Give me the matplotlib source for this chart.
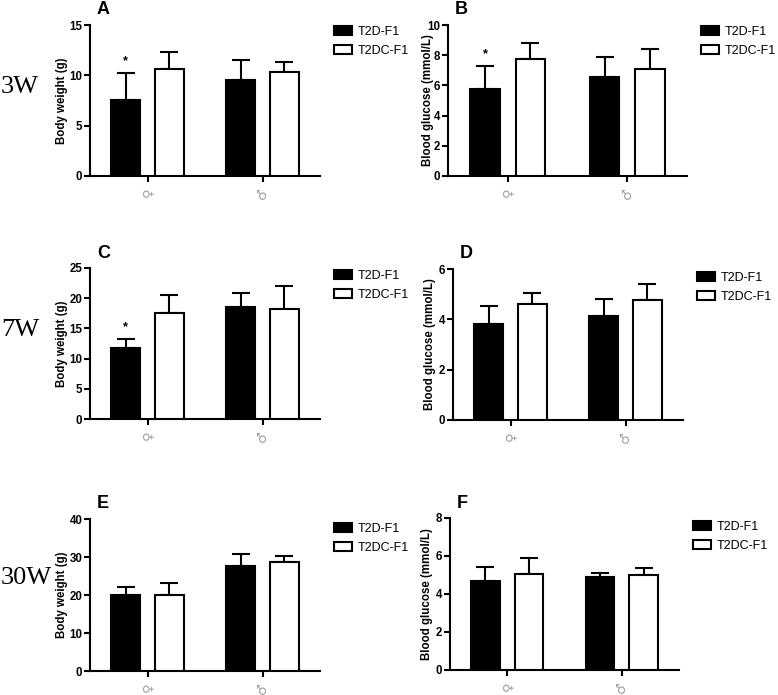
import matplotlib
matplotlib.use("Agg")
import matplotlib.pyplot as plt
from matplotlib.patches import Rectangle
import numpy as np

plt.rcParams['font.family'] = ['Liberation Sans', 'DejaVu Sans']

# ---- data ----
groups = ['♀', '♂']
series = ['T2D-F1', 'T2DC-F1']

A_t2d = [7.55, 9.55]
A_t2d_err = [2.7, 1.95]
A_t2dc = [10.6, 10.35]
A_t2dc_err = [1.7, 1.0]

B_t2d = [5.78, 6.58]
B_t2d_err = [1.5, 1.28]
B_t2dc = [7.75, 7.06]
B_t2dc_err = [1.08, 1.37]

C_t2d = [11.8, 18.5]
C_t2d_err = [1.45, 2.3]
C_t2dc = [17.6, 18.2]
C_t2dc_err = [2.9, 3.8]

D_t2d = [3.81, 4.13]
D_t2d_err = [0.71, 0.66]
D_t2dc = [4.62, 4.78]
D_t2dc_err = [0.43, 0.64]

E_t2d = [20.0, 27.6]
E_t2d_err = [2.1, 3.1]
E_t2dc = [20.1, 28.6]
E_t2dc_err = [3.0, 1.6]

F_t2d = [4.69, 4.9]
F_t2d_err = [0.71, 0.2]
F_t2dc = [5.06, 4.99]
F_t2dc_err = [0.81, 0.39]

ylims = {'A': 15, 'B': 10, 'C': 25, 'D': 6, 'E': 40, 'F': 8}
yticks = {'A': [0, 5, 10, 15], 'B': [0, 2, 4, 6, 8, 10], 'C': [0, 5, 10, 15, 20, 25],
          'D': [0, 2, 4, 6], 'E': [0, 10, 20, 30, 40], 'F': [0, 2, 4, 6, 8]}
ylabels = {'A': 'Body weight (g)', 'B': 'Blood glucose (mmol/L)', 'C': 'Body weight (g)',
           'D': 'Blood glucose (mmol/L)', 'E': 'Body weight (g)', 'F': 'Blood glucose (mmol/L)'}
stars = {'A': True, 'B': True, 'C': True, 'D': False, 'E': False, 'F': False}
row_labels = ['3W', '7W', '30W']

data = {
    'A': (A_t2d, A_t2d_err, A_t2dc, A_t2dc_err),
    'B': (B_t2d, B_t2d_err, B_t2dc, B_t2dc_err),
    'C': (C_t2d, C_t2d_err, C_t2dc, C_t2dc_err),
    'D': (D_t2d, D_t2d_err, D_t2dc, D_t2dc_err),
    'E': (E_t2d, E_t2d_err, E_t2dc, E_t2dc_err),
    'F': (F_t2d, F_t2d_err, F_t2dc, F_t2dc_err),
}

W, H = 778, 695
fig = plt.figure(figsize=(W / 100, H / 100), dpi=100)

# pixel layout: left, top, right, bottom
boxes = {
    'A': (90, 25, 320, 176),
    'B': (448, 25, 687, 176),
    'C': (90, 268, 320, 419),
    'D': (453, 269, 683, 420),
    'E': (90, 519, 320, 671),
    'F': (450, 518, 679, 670),
}
legend_pos = {'A': (334, 26), 'B': (701, 26), 'C': (334, 270), 'D': (697, 272),
              'E': (334, 523), 'F': (693, 521)}
ylabel_x = {'A': 62, 'B': 428, 'C': 62, 'D': 430, 'E': 62, 'F': 427}

def fx(px):
    return px / W

def fy(py):
    return 1 - py / H

x = np.arange(len(groups))
bw = 0.25
off = 0.19
lw = 1.5

for key, (l, t, r, b) in boxes.items():
    ax = fig.add_axes([fx(l), fy(b), fx(r) - fx(l), fy(t) - fy(b)])
    t2d, t2d_e, t2dc, t2dc_e = data[key]
    ax.bar(x - off, t2d, bw, color='black', edgecolor='black', linewidth=lw, zorder=3)
    ax.bar(x + off, t2dc, bw, color='white', edgecolor='black', linewidth=lw, zorder=3)
    ax.errorbar(x - off, t2d, yerr=[np.zeros(len(t2d)), t2d_e], fmt='none', ecolor='black',
                elinewidth=lw, capsize=6.5, capthick=lw, zorder=2)
    ax.errorbar(x + off, t2dc, yerr=[np.zeros(len(t2dc)), t2dc_e], fmt='none', ecolor='black',
                elinewidth=lw, capsize=6.5, capthick=lw, zorder=2)
    if stars[key]:
        ax.annotate('*', xy=(x[0] - off, t2d[0] + t2d_e[0]), xytext=(0, 4),
                    textcoords='offset points', ha='center', va='bottom',
                    fontsize=9, fontweight='bold')
    ax.set_xlim(-0.5, 1.5)
    ax.set_ylim(0, ylims[key])
    ax.set_yticks(yticks[key])
    ax.set_xticks(x)
    ax.set_xticklabels(groups, rotation=90, color='#a0a0a0', fontsize=9.5,
                       family=['DejaVu Sans'])
    for s in ['top', 'right']:
        ax.spines[s].set_visible(False)
    for s in ['left', 'bottom']:
        ax.spines[s].set_linewidth(lw)
    ax.tick_params(axis='both', width=lw, length=4, direction='out')
    ax.tick_params(axis='y', labelsize=8.3, pad=1.5)
    ax.tick_params(axis='x', pad=4)
    for lab in ax.get_yticklabels():
        lab.set_fontweight('bold')
    ax.patch.set_alpha(0)
    fig.text(fx(ylabel_x[key]), fy((t + b) / 2), ylabels[key], rotation=90,
             ha='center', va='center', fontsize=8.3, fontweight='bold')
    # legend
    handles = [Rectangle((0, 0), 1, 1, facecolor='black', edgecolor='black', linewidth=lw),
               Rectangle((0, 0), 1, 1, facecolor='white', edgecolor='black', linewidth=lw)]
    lx, ly = legend_pos[key]
    fig.legend(handles, series, loc='upper left', bbox_to_anchor=(fx(lx), fy(ly)),
               frameon=False, fontsize=9, handlelength=1.4, handleheight=0.7,
               handletextpad=0.5, labelspacing=0.55, borderaxespad=0, borderpad=0)
    # panel letter
    fig.text(fx(l + 7), fy(t - 15), key, fontsize=13, fontweight='bold', va='center', ha='left')

row_y = [87, 330, 578]
for lab, yy in zip(row_labels, row_y):
    fig.text(fx(1), fy(yy), lab, fontsize=19, family=['Liberation Serif', 'DejaVu Serif'],
             va='center', ha='left')

fig.savefig('out.png', dpi=100)
